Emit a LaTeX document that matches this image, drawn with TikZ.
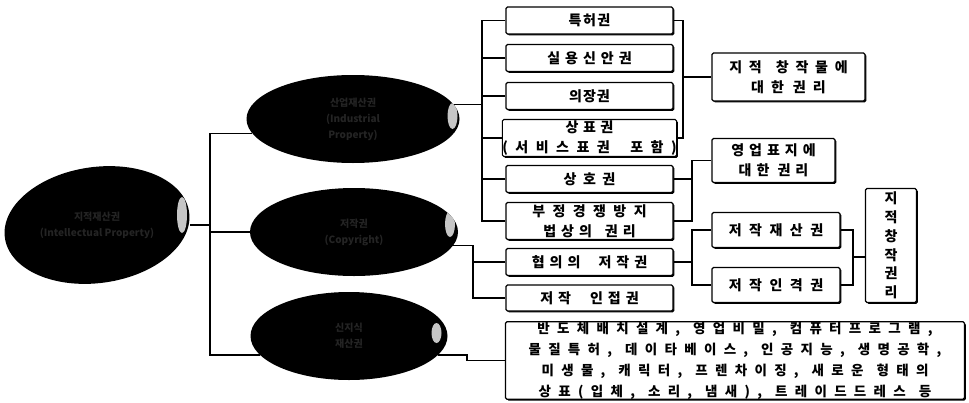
\documentclass[tikz,border=0pt]{standalone}
\usepackage{fontspec}
\newfontfamily\kr{Noto Sans CJK KR}
\usetikzlibrary{shapes.geometric,shadows}
\ExplSyntaxOn
\bool_new:N \l_ks_first_bool
\NewDocumentCommand\ks{mmm}{
  \bool_set_true:N \l_ks_first_bool
  \tl_map_inline:nn {#3}{
    \str_if_eq:nnTF {##1}{|}
      {\hspace{#2}\bool_set_true:N \l_ks_first_bool}
      {\bool_if:NF \l_ks_first_bool {\hspace{#1}}##1\bool_set_false:N \l_ks_first_bool}
  }
}
\ExplSyntaxOff
\begin{document}
\begin{tikzpicture}[x=1pt,y=-1pt,
  rbox/.style={draw,line width=1.1pt,rounded corners=1.5pt,fill=white,inner sep=0pt,
    font=\kr\bfseries\fontsize{14}{20}\selectfont,align=center,
    drop shadow={shadow xshift=1.3pt,shadow yshift=-1.3pt,fill=black,opacity=1}},
  blob/.style={ellipse,fill=black,inner sep=0pt,text=black!86,
    font=\kr\bfseries\fontsize{10}{16}\selectfont,align=center},
  conn/.style={line width=1.1pt}]
\useasboundingbox (0,0) rectangle (969,402);
% ellipses
\fill[rotate around={8:(97,225)}] (97,225) ellipse (93 and 58);
\fill[gray!45] (182,215) ellipse (5 and 18);
\node[blob,fill=none,minimum width=186pt,minimum height=110pt] (L) at (97,225) {지적재산권\\(Intellectual Property)};
\node[blob,minimum width=213pt,minimum height=88pt,
  path picture={\fill[gray!45] ([xshift=-7pt,yshift=3pt]path picture bounding box.east) ellipse (5pt and 13pt);}]
  (T) at (353,119) {산업재산권\\(Industrial\\Property)};
\node[blob,minimum width=208pt,minimum height=88pt,
  path picture={\fill[gray!45] ([xshift=-8pt,yshift=8pt]path picture bounding box.east) ellipse (5pt and 13pt);}]
  (M) at (354,232) {저작권\\(Copyright)};
\node[blob,minimum width=197pt,minimum height=88pt,
  path picture={\fill[gray!45] ([xshift=-11pt,yshift=3pt]path picture bounding box.east) ellipse (5pt and 10pt);}]
  (B) at (349,336) {신지식\\재산권};
% first column boxes
\node[rbox,minimum width=167pt,minimum height=27pt] (A1) at (589.5,20.5) {\ks{1.5pt}{0pt}{특허권}};
\node[rbox,minimum width=167pt,minimum height=27pt] (A2) at (589.5,58) {\ks{5pt}{0pt}{실용신안권}};
\node[rbox,minimum width=167pt,minimum height=27pt] (A3) at (589.5,96) {\ks{1pt}{0pt}{의장권}};
\node[rbox,minimum width=167pt,minimum height=37pt] (A4) at (589.5,138) {\ks{4.5pt}{0pt}{상표권}\\\ks{7.5pt}{20.5pt}{(서비스표권|포함)}};
\node[rbox,minimum width=167pt,minimum height=27pt] (A5) at (589.5,179) {\ks{6.5pt}{0pt}{상호권}};
\node[rbox,minimum width=167pt,minimum height=37pt] (A6) at (589.5,221) {\ks{7.4pt}{0pt}{부정경쟁방지}\\\ks{5pt}{13pt}{법상의|권리}};
\node[rbox,minimum width=167pt,minimum height=27pt] (A7) at (589.5,262) {\ks{5pt}{18pt}{협의의|저작권}};
\node[rbox,minimum width=167pt,minimum height=26pt] (A8) at (589.5,298) {\ks{5pt}{19pt}{저작|인접권}};
% second column
\node[rbox,minimum width=153pt,minimum height=48pt] (C1) at (788.5,77) {\ks{6.75pt}{14pt}{지적|창작물에}\\\ks{7pt}{9pt}{대한|권리}};
\node[rbox,minimum width=123pt,minimum height=44pt] (C2) at (773.5,160.5) {\ks{5pt}{0pt}{영업표지에}\\\ks{5pt}{8pt}{대한|권리}};
\node[rbox,minimum width=128pt,minimum height=35pt] (C3) at (776,230) {\ks{7.5pt}{0pt}{저작재산권}};
\node[rbox,minimum width=128pt,minimum height=35pt] (C4) at (776,285) {\ks{7.5pt}{0pt}{저작인격권}};
\node[rbox,minimum width=51pt,minimum height=114pt,font=\kr\bfseries\fontsize{14}{18.8}\selectfont] (C5) at (891,245.5) {지\\적\\창\\작\\권\\리};
% big box
\node[rbox,minimum width=459pt,minimum height=77pt,font=\kr\bfseries\fontsize{13.5}{21}\selectfont] (D) at (735,360.5)
  {\ks{7.3pt}{13pt}{반도체배치설계,|영업비밀,|컴퓨터프로그램,}\\
   \ks{7.3pt}{13pt}{물질특허,|데이타베이스,|인공지능,|생명공학,}\\
   \ks{7.3pt}{13pt}{미생물,|캐릭터,|프렌차이징,|새로운|형태의}\\
   \ks{7.3pt}{13pt}{상표(입체,|소리,|냄새),|트레이드드레스|등}};
% bus coordinates
\coordinate (b0) at (210,0);
\coordinate (b1) at (482,0);
\coordinate (b2) at (683,0);
\coordinate (b3) at (692,0);
\coordinate (b4) at (473,0);
\coordinate (b5) at (853,0);
\coordinate (b6) at (467,0);
% connectors: left tree
\draw[conn] (T.188) -- (T.188 -| b0) -- (B.192 -| b0) -- (B.192);
\draw[conn] (M.west) -- (M.west -| b0);
\draw[conn] (L.east) -- (L.east -| b0);
% top ellipse bus
\draw[conn] (T.8) -- (T.8 -| b1);
\draw[conn] (A1.west) -- (A1.west -| b1) -- (A6.west -| b1) -- (A6.west);
\draw[conn] (A2.west) -- (A2.west -| b1);
\draw[conn] (A3.west) -- (A3.west -| b1);
\draw[conn] (A4.west) -- (A4.west -| b1);
\draw[conn] (A5.west) -- (A5.west -| b1);
% right buses
\draw[conn] (A1.east) -- (A1.east -| b2) -- (A4.east -| b2) -- (A4.east);
\draw[conn] (C1.west -| b2) -- (C1.west);
\draw[conn] (C2.west) -- (C2.west -| b3) -- (A6.east -| b3) -- (A6.east);
\draw[conn] (A5.east) -- (A5.east -| b3);
% copyright
\draw[conn] (M.-8) -- (M.-8 -| b4) -- (A8.west -| b4) -- (A8.west);
\draw[conn] (A7.west) -- (A7.west -| b4);
\draw[conn] (C3.west) -- (C3.west -| b3) -- (C4.west -| b3) -- (C4.west);
\draw[conn] (A7.east) -- (A7.east -| b3);
\draw[conn] (C3.east) -- (C3.east -| b5) -- (C4.east -| b5) -- (C4.east);
\coordinate (k5) at (853,257);
\draw[conn] (k5) -- (k5 -| C5.west);
% bottom
\draw[conn] (B.-12) -- (B.-12 -| b6) -- (D.west -| b6) -- (D.west);
\end{tikzpicture}
\end{document}
